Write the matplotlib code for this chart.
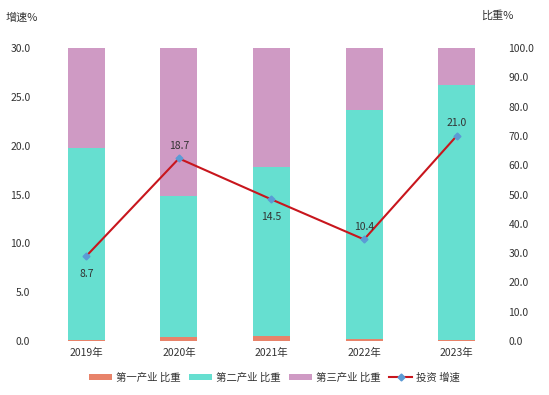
import numpy as np
import matplotlib.pyplot as plt

plt.rcParams['font.family'] = ['Noto Sans CJK SC', 'DejaVu Sans']

years = ['2019年', '2020年', '2021年', '2022年', '2023年']
primary = [0.4, 1.4, 1.7, 0.6, 0.3]
secondary = [65.6, 48.2, 57.6, 78.2, 87.1]
tertiary = [34.0, 50.4, 40.7, 21.2, 12.6]
growth = [8.7, 18.7, 14.5, 10.4, 21.0]
label_pos = ['below', 'above', 'below', 'above', 'above']

c1 = '#E8836A'
c2 = '#66DFD0'
c3 = '#CF9AC4'
line_c = '#C8161D'
mark_c = '#5B9BD5'
txt_c = '#333333'

fig = plt.figure(figsize=(5.49, 3.95), dpi=100)
ax = fig.add_axes([0.073, 0.137, 0.843, 0.741])
ax2 = ax.twinx()

x = np.arange(len(years))
w = 0.4
b2 = np.array(primary)
b3 = b2 + np.array(secondary)
ax2.bar(x, primary, w, color=c1, label='第一产业 比重')
ax2.bar(x, secondary, w, bottom=b2, color=c2, label='第二产业 比重')
ax2.bar(x, tertiary, w, bottom=b3, color=c3, label='第三产业 比重')
ax2.set_ylim(0, 100)
ax2.set_yticks(np.arange(0, 101, 10))
ax2.set_yticklabels(['%.1f' % v for v in np.arange(0, 101, 10)])

# line drawn on the left axis, placed above the bars
ax.set_zorder(ax2.get_zorder() + 1)
ax.patch.set_visible(False)
ax.plot(x, growth, color=line_c, lw=1.5, marker='D', ms=3.5,
        mfc=mark_c, mec=mark_c, label='投资 增速')
for xi, v, p in zip(x, growth, label_pos):
    off = 9 if p == 'above' else -13
    ax.annotate('%.1f' % v, (xi, v), xytext=(0, off), textcoords='offset points',
                ha='center', va='center', fontsize=7.5, color=txt_c)
ax.set_ylim(0, 30)
ax.set_yticks(np.arange(0, 31, 5))
ax.set_yticklabels(['%.1f' % v for v in np.arange(0, 31, 5)])
ax.set_xlim(-0.5, 4.5)
ax.set_xticks(x)
ax.set_xticklabels(years)

for a in (ax, ax2):
    for s in a.spines.values():
        s.set_visible(False)
    a.tick_params(length=0, labelsize=7.5, labelcolor=txt_c)
ax.tick_params(axis='y', pad=7)
ax2.tick_params(axis='y', pad=4)
ax.tick_params(axis='x', pad=5)

fig.text(0.01, 0.955, '增速%', fontsize=8, color=txt_c, ha='left', va='center')
fig.text(0.935, 0.962, '比重%', fontsize=8, color=txt_c, ha='right', va='center')

h2, l2 = ax2.get_legend_handles_labels()
h1, l1 = ax.get_legend_handles_labels()
fig.legend(h2 + h1, l2 + l1, loc='center', bbox_to_anchor=(0.5, 0.045), ncol=4,
           frameon=False, fontsize=7.5, handlelength=2.2, handleheight=0.5,
           columnspacing=0.8, handletextpad=0.4, labelcolor=txt_c)

fig.savefig('out.png', dpi=100)
